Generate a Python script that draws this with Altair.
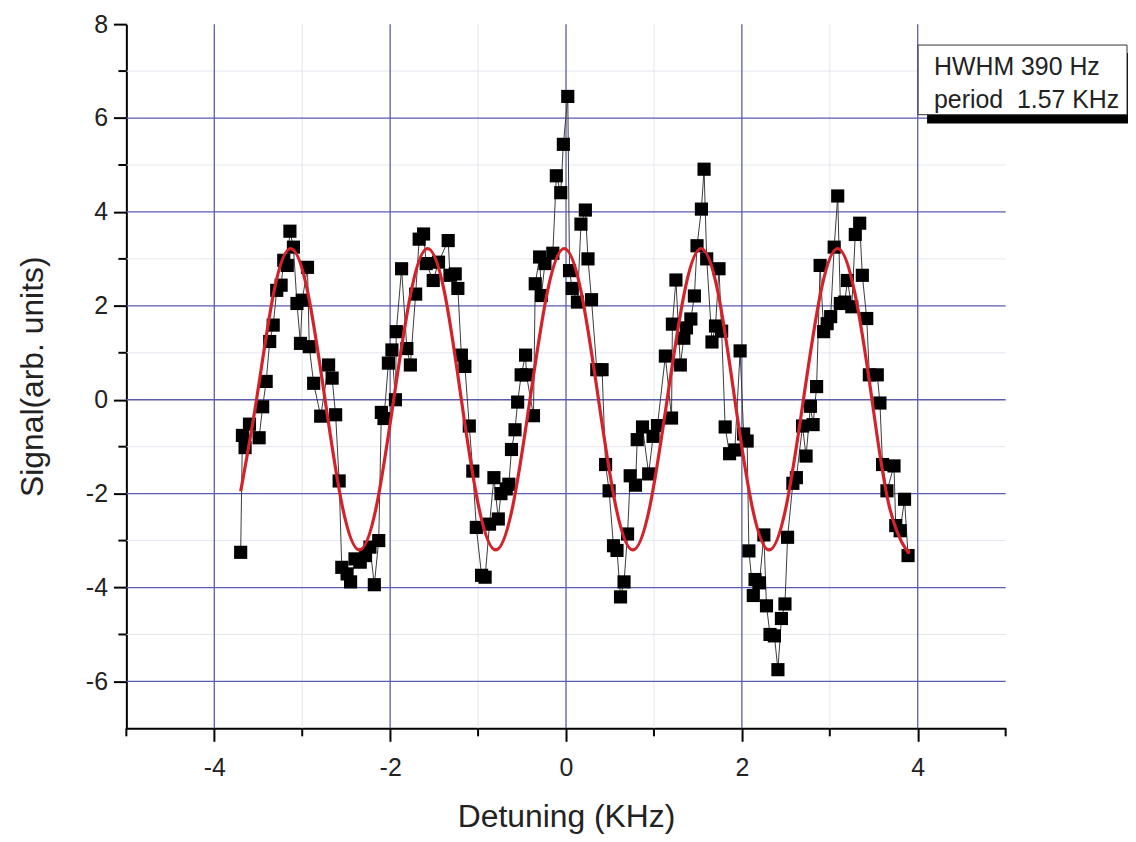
import altair as alt
import pandas as pd

# ---- data ----
det = [-3.70,-3.68,-3.65,-3.60,-3.49,-3.45,-3.41,-3.37,-3.33,-3.29,-3.24,-3.21,-3.17,-3.14,-3.10,-3.06,
       -3.02,-3.00,-2.94,-2.92,-2.87,-2.79,-2.70,-2.66,-2.62,-2.58,-2.55,-2.49,-2.45,-2.40,-2.34,-2.28,
       -2.23,-2.18,-2.13,-2.10,-2.07,-2.02,-1.98,-1.94,-1.93,-1.87,-1.81,-1.77,-1.71,-1.67,-1.62,-1.59,
       -1.51,-1.45,-1.34,-1.32,-1.26,-1.23,-1.19,-1.15,-1.10,-1.06,-1.02,-0.96,-0.92,-0.87,-0.82,-0.77,
       -0.74,-0.68,-0.65,-0.62,-0.58,-0.55,-0.51,-0.46,-0.45,-0.37,-0.35,-0.30,-0.28,-0.24,-0.15,-0.11,
       -0.06,-0.03,0.02,0.04,0.07,0.13,0.17,0.22,0.25,0.29,0.35,0.41,0.45,0.49,0.54,0.58,0.62,0.66,0.70,
       0.73,0.79,0.81,0.87,0.94,0.99,1.04,1.13,1.20,1.21,1.25,1.30,1.34,1.37,1.42,1.46,1.49,1.54,1.57,
       1.60,1.66,1.70,1.74,1.77,1.81,1.86,1.92,1.98,2.02,2.06,2.08,2.13,2.15,2.20,2.25,2.28,2.32,2.37,
       2.41,2.45,2.49,2.52,2.58,2.62,2.69,2.73,2.78,2.81,2.85,2.89,2.93,2.97,3.01,3.05,3.09,3.12,3.17,
       3.20,3.25,3.29,3.34,3.37,3.42,3.45,3.54,3.57,3.60,3.65,3.73,3.75,3.80,3.85,3.89]
sig = [-3.25,-0.76,-1.02,-0.52,-0.81,-0.15,0.39,1.24,1.59,2.33,2.44,2.97,2.86,3.59,3.25,2.05,
       1.20,2.12,2.82,1.13,0.35,-0.35,0.74,0.46,-0.32,-1.73,-3.57,-3.71,-3.88,-3.39,-3.46,-3.32,
       -3.14,-3.94,-3.00,-0.27,-0.40,0.78,1.06,0.00,1.45,2.79,1.09,0.74,2.25,3.42,3.53,2.90,
       2.54,2.93,3.39,2.65,2.68,2.37,0.95,0.71,-0.56,-1.52,-2.72,-3.74,-3.78,-2.65,-1.66,-2.54,
       -2.00,-1.90,-1.80,-1.06,-0.64,-0.05,0.53,0.95,0.53,-0.34,2.47,3.04,2.22,2.90,3.12,4.77,
       4.41,5.44,6.46,2.75,2.37,2.08,3.74,4.04,3.00,2.13,0.64,0.64,-1.38,-1.94,-3.11,-3.21,-4.20,-3.88,-2.86,
       -1.62,-1.82,-0.85,-0.58,-1.58,-0.78,-0.55,0.93,-0.39,1.61,2.55,0.74,1.31,1.53,1.72,2.21,3.28,4.06,4.91,
       3.00,1.23,1.57,2.79,1.46,-0.58,-1.15,-1.07,1.04,-0.73,-0.88,-3.22,-4.17,-3.83,-3.90,-2.88,-4.39,-5.00,-5.03,
       -5.75,-4.66,-4.35,-2.93,-1.78,-1.66,-0.56,-1.20,-0.14,-0.53,0.28,2.86,1.45,1.62,1.77,3.25,4.34,2.05,2.08,
       2.54,1.98,3.52,3.76,2.65,1.73,0.53,0.53,-0.07,-1.38,-1.94,-1.41,-2.68,-2.79,-2.12,-3.32]

# red fit curve, read at its extremes, zero crossings and half-way points
fit_x = [-3.70,-3.52,-3.325,-3.13,-2.935,-2.74,-2.545,-2.35,-2.155,-1.96,-1.765,-1.575,-1.38,-1.19,
         -0.995,-0.80,-0.605,-0.41,-0.215,-0.02,0.175,0.37,0.565,0.76,0.955,1.15,1.345,1.535,1.73,
         1.92,2.115,2.31,2.505,2.70,2.895,3.09,3.285,3.48,3.675,3.87,3.89]
fit_y = [-1.95,0.0,2.27,3.22,2.27,0.0,-2.26,-3.2,-2.26,0.0,2.27,3.22,2.27,0.0,
         -2.26,-3.2,-2.26,0.0,2.27,3.22,2.27,0.0,-2.26,-3.2,-2.26,0.0,2.27,3.22,2.27,
         0.0,-2.26,-3.2,-2.26,0.0,2.27,3.22,2.27,0.0,-2.26,-3.2,-3.19]

x_major = [-4, -2, 0, 2, 4]
x_minor = [-5, -3, -1, 1, 3, 5]
y_major = [-6, -4, -2, 0, 2, 4, 6, 8]
y_minor = [-5, -3, -1, 1, 3, 5, 7]
grid_x = [-4, -2, 0, 2, 4]
grid_y = [-6, -4, -2, 0, 2, 4, 6]
fgrid_x = [-3, -1, 1, 3]
fgrid_y = [-5, -3, -1, 1, 3, 5, 7]
legend_line1 = "HWHM 390 Hz"
legend_line2 = "period\u00a0 1.57 KHz"

FONT = "Liberation Sans"
W, H = 884, 708
xs = alt.Scale(domain=[-5, 5], nice=False, zero=False)
ys = alt.Scale(domain=[-7, 8], nice=False, zero=False)

x_axis = alt.Axis(values=x_major, grid=False, tickSize=13, tickWidth=2, tickColor="black",
                  domainColor="black", domainWidth=2, labelFont=FONT, labelFontSize=25,
                  labelColor="#222", labelPadding=14, labelFlush=False,
                  labelExpr="'' + datum.value",
                  title="Detuning (KHz)", titleFont=FONT, titleFontSize=32,
                  titleFontWeight="normal", titleColor="#222", titlePadding=22)
y_axis = alt.Axis(values=y_major, grid=False, tickSize=13, tickWidth=2, tickColor="black",
                  domainColor="black", domainWidth=2, labelFont=FONT, labelFontSize=25,
                  labelColor="#222", labelPadding=6, labelFlush=False,
                  labelExpr="'' + datum.value",
                  title="Signal(arb. units)", titleFont=FONT, titleFontSize=32,
                  titleFontWeight="normal", titleColor="#222", titlePadding=36)

pts = pd.DataFrame({"x": det, "y": sig})
fit = pd.DataFrame({"x": fit_x, "y": fit_y})

faint_x = alt.Chart(pd.DataFrame({"v": fgrid_x})).mark_rule(color="#e6e6f0", strokeWidth=1).encode(
    x=alt.X("v:Q", scale=xs, axis=x_axis))
faint_y = alt.Chart(pd.DataFrame({"v": fgrid_y})).mark_rule(color="#e6e6f0", strokeWidth=1).encode(
    y=alt.Y("v:Q", scale=ys, axis=y_axis))
grid_xl = alt.Chart(pd.DataFrame({"v": grid_x})).mark_rule(color="#5b5bb0", strokeWidth=1.3).encode(
    x=alt.X("v:Q", scale=xs))
grid_yl = alt.Chart(pd.DataFrame({"v": grid_y})).mark_rule(color="#5b5bb0", strokeWidth=1.3).encode(
    y=alt.Y("v:Q", scale=ys))

minor_tx = alt.Chart(pd.DataFrame({"v": x_minor})).mark_rule(color="black", strokeWidth=2).encode(
    x=alt.X("v:Q", scale=xs), y=alt.value(H), y2=alt.value(H + 8))
minor_ty = alt.Chart(pd.DataFrame({"v": y_minor})).mark_rule(color="black", strokeWidth=2).encode(
    y=alt.Y("v:Q", scale=ys), x=alt.value(0), x2=alt.value(-8))

conn = alt.Chart(pts).mark_line(color="#3a3a3a", strokeWidth=1).encode(
    x=alt.X("x:Q", scale=xs), y=alt.Y("y:Q", scale=ys), order="x:Q")
squares = alt.Chart(pts).mark_square(size=175, color="black", opacity=1).encode(
    x=alt.X("x:Q", scale=xs), y=alt.Y("y:Q", scale=ys))
curve = alt.Chart(fit).mark_line(color="#d3232a", strokeWidth=3.2, interpolate="natural").encode(
    x=alt.X("x:Q", scale=xs), y=alt.Y("y:Q", scale=ys), order="x:Q")

one = pd.DataFrame({"k": [0]})
shadow = alt.Chart(one).mark_rect(color="black").encode(
    x=alt.value(805), x2=alt.value(1011), y=alt.value(29), y2=alt.value(100))
box = alt.Chart(one).mark_rect(fill="white", stroke="#333", strokeWidth=1).encode(
    x=alt.value(796), x2=alt.value(1006), y=alt.value(21), y2=alt.value(91))
t1 = alt.Chart(one).mark_text(text=legend_line1, font=FONT, fontSize=25, align="left",
                              baseline="alphabetic", color="#222").encode(
    x=alt.value(812), y=alt.value(51))
t2 = alt.Chart(one).mark_text(text=legend_line2, font=FONT, fontSize=25, align="left",
                              baseline="alphabetic", color="#222").encode(
    x=alt.value(812), y=alt.value(84))

chart = alt.layer(faint_x, faint_y, grid_xl, grid_yl, minor_tx, minor_ty, conn, squares, curve,
                  shadow, box, t1, t2).properties(
    width=W, height=H, autosize="none",
    padding={"left": 119, "top": 14, "right": 123, "bottom": 110},
    background="white"
).configure_view(stroke=None)

chart.save("out.html", embed_options={"renderer": "svg", "actions": False})
